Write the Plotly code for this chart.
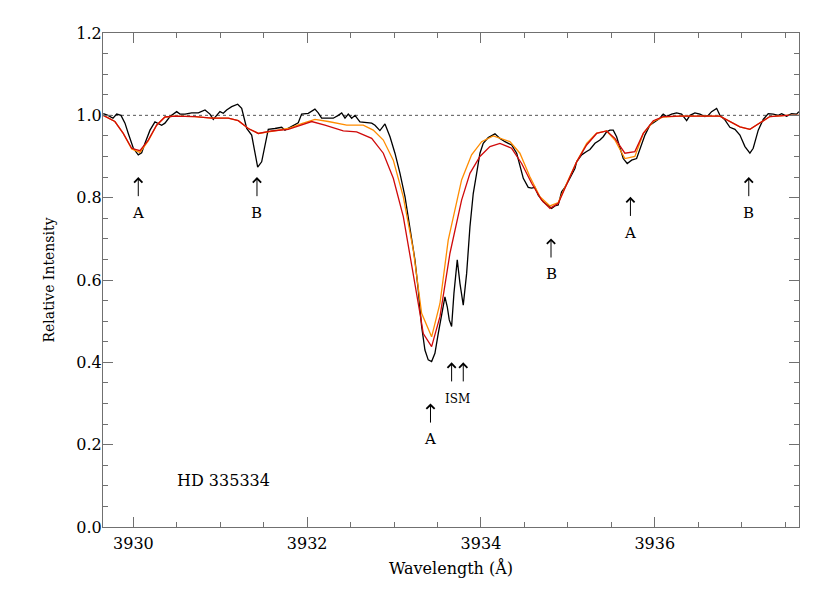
import plotly.graph_objects as go

# observed spectrum (black)
obs_wave = [
    3929.653, 3929.708, 3929.765, 3929.808, 3929.857, 3929.903, 3929.941, 3929.999,
    3930.056, 3930.095, 3930.133, 3930.191, 3930.248, 3930.286, 3930.325, 3930.363,
    3930.421, 3930.498, 3930.536, 3930.594, 3930.671, 3930.747, 3930.824, 3930.881,
    3930.919, 3930.958, 3930.996, 3931.034, 3931.073, 3931.131, 3931.200, 3931.246,
    3931.304, 3931.361, 3931.399, 3931.430, 3931.476, 3931.514, 3931.552, 3931.629,
    3931.706, 3931.744, 3931.782, 3931.840, 3931.897, 3931.936, 3932.012, 3932.089,
    3932.127, 3932.166, 3932.243, 3932.300, 3932.358, 3932.397, 3932.435, 3932.473,
    3932.512, 3932.550, 3932.607, 3932.684, 3932.742, 3932.780, 3932.837, 3932.895,
    3932.953, 3933.010, 3933.068, 3933.126, 3933.183, 3933.240, 3933.278, 3933.317,
    3933.355, 3933.393, 3933.432, 3933.470, 3933.508, 3933.547, 3933.585, 3933.612,
    3933.635, 3933.662, 3933.689, 3933.727, 3933.758, 3933.796, 3933.835, 3933.873,
    3933.911, 3933.950, 3933.988, 3934.026, 3934.084, 3934.161, 3934.218, 3934.276,
    3934.353, 3934.411, 3934.448, 3934.487, 3934.544, 3934.583, 3934.621, 3934.659,
    3934.717, 3934.774, 3934.813, 3934.851, 3934.889, 3934.928, 3934.966, 3935.023,
    3935.081, 3935.101, 3935.158, 3935.216, 3935.254, 3935.312, 3935.369, 3935.407,
    3935.446, 3935.484, 3935.522, 3935.561, 3935.599, 3935.637, 3935.683, 3935.734,
    3935.791, 3935.829, 3935.887, 3935.944, 3936.002, 3936.059, 3936.097, 3936.136,
    3936.194, 3936.251, 3936.309, 3936.367, 3936.405, 3936.462, 3936.520, 3936.577,
    3936.615, 3936.654, 3936.712, 3936.750, 3936.807, 3936.865, 3936.923, 3936.980,
    3937.038, 3937.095, 3937.133, 3937.191, 3937.248, 3937.306, 3937.363, 3937.421,
    3937.460, 3937.517, 3937.575, 3937.632, 3937.659,
]
obs_flux = [
    1.004, 1.000, 0.993, 1.003, 1.000, 0.981, 0.956, 0.920,
    0.904, 0.909, 0.932, 0.964, 0.984, 0.981, 0.976, 0.981,
    0.997, 1.009, 1.003, 1.003, 1.006, 1.006, 1.013, 1.003,
    0.990, 1.000, 1.009, 1.005, 1.013, 1.021, 1.027, 1.017,
    0.968, 0.952, 0.908, 0.874, 0.887, 0.924, 0.966, 0.968,
    0.971, 0.964, 0.968, 0.976, 0.982, 1.003, 1.005, 1.015,
    1.006, 0.993, 0.993, 0.993, 1.000, 1.006, 0.993, 1.003,
    0.993, 1.000, 0.984, 0.982, 0.981, 0.976, 0.963, 0.979,
    0.948, 0.908, 0.859, 0.802, 0.729, 0.649, 0.576, 0.487,
    0.430, 0.406, 0.402, 0.422, 0.470, 0.519, 0.559, 0.535,
    0.503, 0.487, 0.568, 0.649, 0.592, 0.539, 0.616, 0.729,
    0.810, 0.859, 0.908, 0.932, 0.946, 0.955, 0.944, 0.936,
    0.928, 0.908, 0.875, 0.847, 0.825, 0.823, 0.825, 0.806,
    0.790, 0.780, 0.774, 0.780, 0.782, 0.814, 0.825, 0.847,
    0.871, 0.887, 0.904, 0.912, 0.917, 0.932, 0.940, 0.948,
    0.960, 0.964, 0.964, 0.948, 0.920, 0.895, 0.883, 0.891,
    0.895, 0.916, 0.952, 0.976, 0.984, 0.993, 1.003, 0.997,
    1.003, 1.006, 1.003, 0.987, 1.000, 1.006, 1.003, 0.997,
    1.000, 1.009, 1.017, 1.000, 0.989, 0.971, 0.966, 0.952,
    0.924, 0.908, 0.920, 0.964, 0.990, 1.004, 1.003, 1.000,
    1.004, 0.998, 1.004, 1.003, 1.009,
]

# model 1 (orange)
orange_wave = [
    3929.653, 3929.787, 3929.883, 3929.980, 3930.075, 3930.171, 3930.267, 3930.363,
    3930.478, 3930.708, 3930.900, 3931.092, 3931.207, 3931.322, 3931.437, 3931.591,
    3931.782, 3931.936, 3932.089, 3932.243, 3932.455, 3932.645, 3932.760, 3932.876,
    3932.991, 3933.106, 3933.221, 3933.317, 3933.432, 3933.528, 3933.623, 3933.777,
    3933.892, 3934.008, 3934.141, 3934.333, 3934.448, 3934.563, 3934.679, 3934.794,
    3934.889, 3935.004, 3935.101, 3935.216, 3935.331, 3935.446, 3935.541, 3935.656,
    3935.771, 3935.868, 3935.983, 3936.097, 3936.289, 3936.750, 3936.865, 3936.980,
    3937.095, 3937.210, 3937.325, 3937.517, 3937.659,
]
orange_flux = [
    1.000, 0.985, 0.956, 0.918, 0.910, 0.938, 0.976, 0.996,
    0.998, 0.997, 0.993, 0.993, 0.987, 0.968, 0.956, 0.962,
    0.968, 0.980, 0.990, 0.985, 0.976, 0.976, 0.964, 0.940,
    0.891, 0.802, 0.673, 0.519, 0.462, 0.543, 0.697, 0.843,
    0.904, 0.936, 0.950, 0.936, 0.908, 0.851, 0.802, 0.780,
    0.788, 0.843, 0.887, 0.932, 0.957, 0.962, 0.940, 0.895,
    0.900, 0.956, 0.985, 0.996, 0.998, 0.998, 0.985, 0.972,
    0.966, 0.981, 0.997, 1.000, 1.000,
]

# model 2 (red)
red_wave = [
    3929.653, 3929.787, 3929.883, 3929.980, 3930.075, 3930.171, 3930.267, 3930.363,
    3930.478, 3930.708, 3930.900, 3931.092, 3931.207, 3931.322, 3931.437, 3931.591,
    3931.782, 3931.936, 3932.051, 3932.204, 3932.262, 3932.415, 3932.569, 3932.742,
    3932.876, 3932.991, 3933.106, 3933.202, 3933.298, 3933.336, 3933.432, 3933.528,
    3933.643, 3933.777, 3933.873, 3933.988, 3934.103, 3934.218, 3934.353, 3934.468,
    3934.583, 3934.698, 3934.794, 3934.889, 3935.004, 3935.101, 3935.216, 3935.331,
    3935.446, 3935.541, 3935.656, 3935.771, 3935.868, 3935.983, 3936.097, 3936.289,
    3936.750, 3936.865, 3936.980, 3937.095, 3937.210, 3937.325, 3937.517, 3937.659,
]
red_flux = [
    1.000, 0.985, 0.956, 0.920, 0.914, 0.940, 0.976, 0.996,
    0.998, 0.997, 0.993, 0.993, 0.987, 0.968, 0.956, 0.962,
    0.966, 0.976, 0.985, 0.976, 0.972, 0.962, 0.960, 0.944,
    0.908, 0.847, 0.754, 0.641, 0.519, 0.470, 0.438, 0.511,
    0.665, 0.794, 0.859, 0.900, 0.924, 0.932, 0.920, 0.883,
    0.835, 0.794, 0.774, 0.786, 0.839, 0.887, 0.928, 0.956,
    0.962, 0.944, 0.908, 0.912, 0.956, 0.987, 0.997, 0.998,
    0.998, 0.985, 0.972, 0.966, 0.981, 0.997, 1.000, 1.000,
]

# line identifications: wavelength, arrow tip, label
line_wave = [3930.056, 3931.422, 3933.419, 3934.806, 3935.720, 3937.082]
line_tip = [0.850, 0.850, 0.300, 0.701, 0.802, 0.850]
line_label = ["A", "B", "A", "B", "A", "B"]
ism_wave = [3933.662, 3933.796]
ism_tip = 0.400

ARROW_LEN = 0.050
FONT = "DejaVu Serif"
AXIS_GREY = "#707070"

fig = go.Figure()
fig.add_trace(go.Scatter(x=obs_wave, y=obs_flux, mode="lines",
                         line=dict(color="black", width=1.3), showlegend=False))
fig.add_trace(go.Scatter(x=orange_wave, y=orange_flux, mode="lines",
                         line=dict(color="#ff8c00", width=1.3), showlegend=False))
fig.add_trace(go.Scatter(x=red_wave, y=red_flux, mode="lines",
                         line=dict(color="#d00a0a", width=1.3), showlegend=False))

# continuum level
fig.add_shape(type="line", xref="paper", x0=0, x1=1, yref="y", y0=1.0, y1=1.0,
              line=dict(color="#555555", width=1, dash="dot"), layer="below")

ann = []


def arrow(x, tip):
    return dict(x=x, y=tip, ax=x, ay=tip - ARROW_LEN, xref="x", yref="y",
                axref="x", ayref="y", text="", showarrow=True,
                arrowhead=4, arrowsize=1.6, arrowwidth=1.0, arrowcolor="black",
                standoff=0, startstandoff=0)


for w, t, lab in zip(line_wave, line_tip, line_label):
    ann.append(arrow(w, t))
    ann.append(dict(x=w, y=t - ARROW_LEN - 0.037, xref="x", yref="y", text=lab,
                    showarrow=False, font=dict(family=FONT, size=15, color="black")))
for w in ism_wave:
    ann.append(arrow(w, ism_tip))
ann.append(dict(x=sum(ism_wave) / 2, y=ism_tip - ARROW_LEN - 0.040, xref="x", yref="y",
                text="ISM", showarrow=False, font=dict(family=FONT, size=12, color="black")))
ann.append(dict(x=3930.48, y=0.112, xref="x", yref="y", text="HD 335334",
                xanchor="left", showarrow=False,
                font=dict(family=FONT, size=16, color="black")))

axis_common = dict(
    showline=True, linecolor=AXIS_GREY, linewidth=1, mirror="allticks",
    ticks="inside", tickcolor=AXIS_GREY, tickwidth=1, ticklen=10,
    showgrid=False, zeroline=False,
    tickfont=dict(family=FONT, size=16, color="black"),
)

# the page body adds an 8 px margin, so the figure is shrunk to fit the window
fig.update_layout(
    width=822, height=585,
    margin=dict(l=95, r=31, t=25, b=66),
    paper_bgcolor="white", plot_bgcolor="white",
    annotations=ann,
    xaxis=dict(
        range=[3929.65, 3937.66], tick0=3930, dtick=2, tickformat="d",
        minor=dict(ticks="inside", dtick=0.5, ticklen=5, tickcolor=AXIS_GREY, showgrid=False),
        ticklabelstandoff=2,
        title=dict(text="Wavelength (Å)", font=dict(family=FONT, size=16, color="black"),
                   standoff=10),
        **axis_common,
    ),
    yaxis=dict(
        range=[0, 1.2], tick0=0, dtick=0.2, tickformat=".1f",
        minor=dict(ticks="inside", dtick=0.05, ticklen=5, tickcolor=AXIS_GREY, showgrid=False),
        ticklabelstandoff=-3,
        title=dict(text="Relative Intensity", font=dict(family=FONT, size=14, color="black"),
                   standoff=18),
        **axis_common,
    ),
)

fig.write_html("out.html")
